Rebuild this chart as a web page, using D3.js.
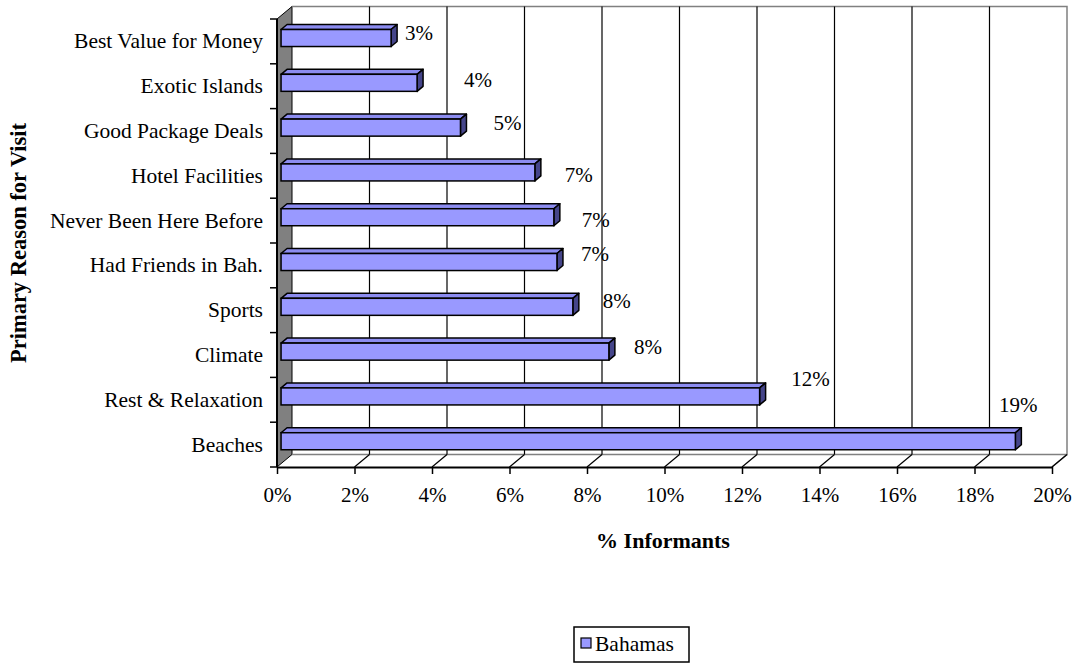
<!DOCTYPE html>
<html>
<head>
<meta charset="utf-8">
<script src="https://cdn.jsdelivr.net/npm/d3@7"></script>
<style>
  html, body { margin: 0; padding: 0; background: #fff; }
  svg text { font-family: "Liberation Serif", "Times New Roman", serif; fill: #000; }
</style>
</head>
<body>
<svg id="chart" width="1073" height="664"></svg>
<script>
// Primary reason for visiting, share of informants (%)
const categories = [
  "Best Value for Money", "Exotic Islands", "Good Package Deals", "Hotel Facilities",
  "Never Been Here Before", "Had Friends in Bah.", "Sports", "Climate",
  "Rest & Relaxation", "Beaches"
];
const bahamas = [2.84, 3.51, 4.63, 6.55, 7.04, 7.12, 7.53, 8.46, 12.35, 18.95];
const xTicks = [0, 2, 4, 6, 8, 10, 12, 14, 16, 18, 20];
const seriesName = "Bahamas";

// label placement nudges relative to each bar's end (dx, dy)
const labelNudge = [
  [28, 2], [61, 4], [47, 2], [44, 10], [42, 10],
  [38, -1], [44, 1], [39, 2], [51, -10], [3, -29]
];

const svg = d3.select("#chart");

const x = d3.scaleLinear().domain([0, 20]).range([277, 1052]);
const y = d3.scaleBand().domain(categories).range([19, 467]).paddingInner(0);

// oblique depth of the 3-D box
const DX = 15, DY = -12.5;
const P = (px, py, z) => [px + z * DX, py + z * DY];
const pts = arr => arr.map(p => p.join(",")).join(" ");

const x0 = x(0), x1 = x(20), yTop = y.range()[0], yBot = y.range()[1];

// side wall
svg.append("polygon")
  .attr("points", pts([P(x0, yTop, 0), P(x0, yTop, 1), P(x0, yBot, 1), P(x0, yBot, 0)]))
  .attr("fill", "#808080").attr("stroke", "#000").attr("stroke-width", 1);

// back wall border and floor border
svg.append("polyline")
  .attr("points", pts([P(x0, yTop, 1), P(x1, yTop, 1), P(x1, yBot, 1), P(x0, yBot, 1)]))
  .attr("fill", "none").attr("stroke", "#808080").attr("stroke-width", 1.5);
svg.append("line")
  .attr("x1", P(x1, yBot, 1)[0]).attr("y1", P(x1, yBot, 1)[1])
  .attr("x2", x1).attr("y2", yBot)
  .attr("stroke", "#808080").attr("stroke-width", 1.5);

// gridlines on back wall and floor
const inner = xTicks.filter(t => t > 0 && t < 20);
svg.append("g").selectAll("line").data(inner).join("line")
  .attr("x1", d => P(x(d), yTop, 1)[0]).attr("y1", P(0, yTop, 1)[1])
  .attr("x2", d => P(x(d), yBot, 1)[0]).attr("y2", P(0, yBot, 1)[1])
  .attr("stroke", "#000").attr("stroke-width", 1.2);
svg.append("g").selectAll("line").data(xTicks.filter(t => t > 0)).join("line")
  .attr("x1", d => x(d)).attr("y1", yBot)
  .attr("x2", d => P(x(d), yBot, 1)[0]).attr("y2", P(0, yBot, 1)[1])
  .attr("stroke", "#000").attr("stroke-width", 1.2);

// value axis (bottom)
const xAxis = d3.axisBottom(x).tickValues(xTicks).tickSize(7).tickSizeOuter(0)
  .tickFormat(d => d + "%");
const gx = svg.append("g").attr("transform", `translate(0,${yBot})`).call(xAxis);
gx.select(".domain").attr("stroke", "#000").attr("stroke-width", 2);
gx.selectAll(".tick line").attr("stroke", "#000").attr("stroke-width", 1.5);
gx.selectAll(".tick text").attr("font-size", 21).attr("dy", 0).attr("y", 35)
  .style("font-family", "'Liberation Serif', serif");

// category axis (left)
const boundaries = categories.map(c => y(c)).concat([yBot]);
svg.append("line").attr("x1", x0).attr("x2", x0).attr("y1", yTop).attr("y2", yBot)
  .attr("stroke", "#000").attr("stroke-width", 2);
svg.append("g").selectAll("line").data(boundaries).join("line")
  .attr("x1", x0 - 7).attr("x2", x0).attr("y1", d => d).attr("y2", d => d)
  .attr("stroke", "#000").attr("stroke-width", 1.5);
svg.append("g").selectAll("text").data(categories).join("text")
  .attr("x", 263).attr("y", d => y(d) + y.bandwidth() / 2 + 7)
  .attr("text-anchor", "end").attr("font-size", 21.5)
  .text(d => d);

// bars
const z0 = 0.27, z1 = 0.67;
const half = y.bandwidth() * 0.19;
const bars = svg.append("g").selectAll("g").data(categories).join("g");
bars.each(function (c, i) {
  const g = d3.select(this);
  const v = bahamas[i];
  const cy = y(c) + y.bandwidth() / 2;
  const a = P(x(0), cy - half, z0), b = P(x(v), cy + half, z0);
  // top face
  g.append("polygon")
    .attr("points", pts([P(x(0), cy - half, z0), P(x(v), cy - half, z0), P(x(v), cy - half, z1), P(x(0), cy - half, z1)]))
    .attr("fill", "#8c8cf0").attr("stroke", "#000").attr("stroke-width", 1.5).attr("stroke-linejoin", "round");
  // end face
  g.append("polygon")
    .attr("points", pts([P(x(v), cy - half, z0), P(x(v), cy - half, z1), P(x(v), cy + half, z1), P(x(v), cy + half, z0)]))
    .attr("fill", "#45458a").attr("stroke", "#000").attr("stroke-width", 1.5).attr("stroke-linejoin", "round");
  // front face
  g.append("rect")
    .attr("x", a[0]).attr("y", a[1]).attr("width", b[0] - a[0]).attr("height", b[1] - a[1])
    .attr("fill", "#9999ff").attr("stroke", "#000").attr("stroke-width", 1.5);
});

// value labels
const fmt = d3.format(".0f");
svg.append("g").selectAll("text").data(categories).join("text")
  .attr("x", (c, i) => P(x(bahamas[i]), 0, z0)[0] + labelNudge[i][0])
  .attr("y", (c, i) => y(c) + y.bandwidth() / 2 + z0 * DY + labelNudge[i][1])
  .attr("text-anchor", "middle").attr("font-size", 21)
  .text((c, i) => fmt(bahamas[i]) + "%");

// axis titles
svg.append("text")
  .attr("transform", "translate(26,243) rotate(-90)")
  .attr("text-anchor", "middle").attr("font-size", 22.5).attr("font-weight", "bold")
  .text("Primary Reason for Visit");
svg.append("text")
  .attr("x", 663).attr("y", 548)
  .attr("text-anchor", "middle").attr("font-size", 22).attr("font-weight", "bold")
  .text("% Informants");

// legend
const lg = svg.append("g").attr("transform", "translate(574,627)");
lg.append("rect").attr("x", 0).attr("y", 0).attr("width", 115).attr("height", 35)
  .attr("fill", "#fff").attr("stroke", "#000").attr("stroke-width", 1.5);
lg.append("rect").attr("x", 7).attr("y", 11).attr("width", 10).attr("height", 10)
  .attr("fill", "#9999ff").attr("stroke", "#000").attr("stroke-width", 1.2);
lg.append("text").attr("x", 21).attr("y", 24).attr("font-size", 21.5).text(seriesName);
</script>
</body>
</html>
